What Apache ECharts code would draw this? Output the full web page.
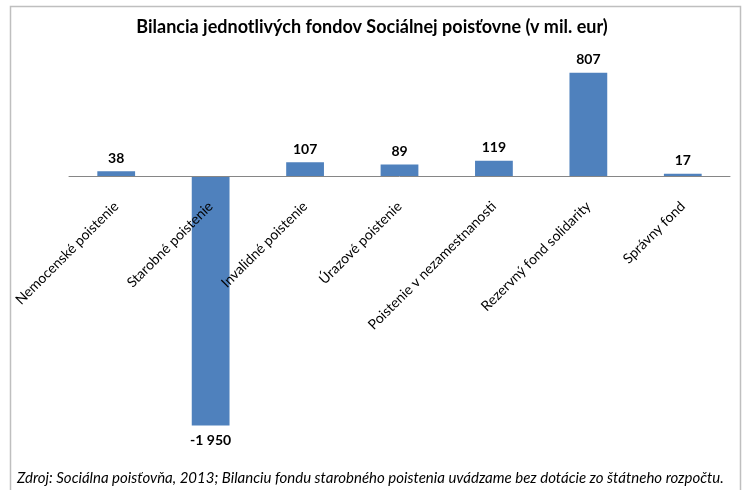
<!DOCTYPE html>
<html>
<head>
  <meta charset="utf-8">
  <script src="https://cdn.jsdelivr.net/npm/echarts@6.0.0/dist/echarts.min.js"></script>
  <style>
    body { margin: 0; padding: 0; background: #fff; }
    #chart { width: 744px; height: 490px; }
  </style>
</head>
<body>
  <div id="chart"></div>
  <script>
    const categories = [
      'Nemocenské poistenie',
      'Starobné poistenie',
      'Invalidné poistenie',
      'Úrazové poistenie',
      'Poistenie v nezamestnanosti',
      'Rezervný fond solidarity',
      'Správny fond'
    ];
    const balances = [38, -1950, 107, 89, 119, 807, 17];

    const titleText = 'Bilancia jednotlivých fondov Sociálnej poisťovne (v mil. eur)';
    const noteText = 'Zdroj: Sociálna poisťovňa, 2013; Bilanciu fondu starobného poistenia uvádzame bez dotácie zo štátneho rozpočtu.';

    const font = 'Lato, "Open Sans", sans-serif';

    const fmt = v => {
      const s = String(Math.abs(v)).replace(/\B(?=(\d{3})+(?!\d))/g, ' ');
      return (v < 0 ? '-' : '') + s;
    };

    // zero line sits 256px above the grid bottom (2000 of 3000 units over 384px)
    const chart = echarts.init(document.getElementById('chart'));
    chart.setOption({
      animation: false,
      title: {
        text: titleText,
        left: 'center',
        top: 13,
        textStyle: { fontFamily: font, fontSize: 18, fontWeight: 'bold', color: '#000' }
      },
      grid: { left: 69, right: 14, top: 48, height: 384, outerBoundsMode: 'none' },
      xAxis: {
        type: 'category',
        data: categories,
        position: 'bottom',
        offset: -256,
        z: 10,
        axisLine: { onZero: false, lineStyle: { color: '#868686' } },
        axisTick: { show: false },
        axisLabel: {
          rotate: 45,
          interval: 0,
          fontFamily: font,
          fontSize: 14,
          color: '#000',
          margin: 28
        }
      },
      yAxis: {
        type: 'value',
        min: -2000,
        max: 1000,
        show: false,
        splitLine: { show: false }
      },
      series: [{
        type: 'bar',
        barCategoryGap: '60%',
        itemStyle: { color: '#4F81BD' },
        data: balances.map(v => ({
          value: v,
          label: { position: v < 0 ? 'bottom' : 'top', distance: v < 0 ? 8 : 6 }
        })),
        label: {
          show: true,
          fontFamily: font,
          fontSize: 14,
          fontWeight: 'bold',
          color: '#000',
          formatter: p => fmt(p.value)
        }
      }],
      graphic: [
        {
          type: 'rect',
          shape: { x: 10.5, y: 6.5, width: 730, height: 500 },
          style: { fill: 'none', stroke: '#BFBFBF', lineWidth: 1.5 },
          silent: true
        },
        {
          type: 'text',
          left: 17,
          top: 471,
          style: {
            text: noteText,
            font: 'italic 15px ' + font,
            fill: '#000'
          }
        }
      ]
    });
  </script>
</body>
</html>
